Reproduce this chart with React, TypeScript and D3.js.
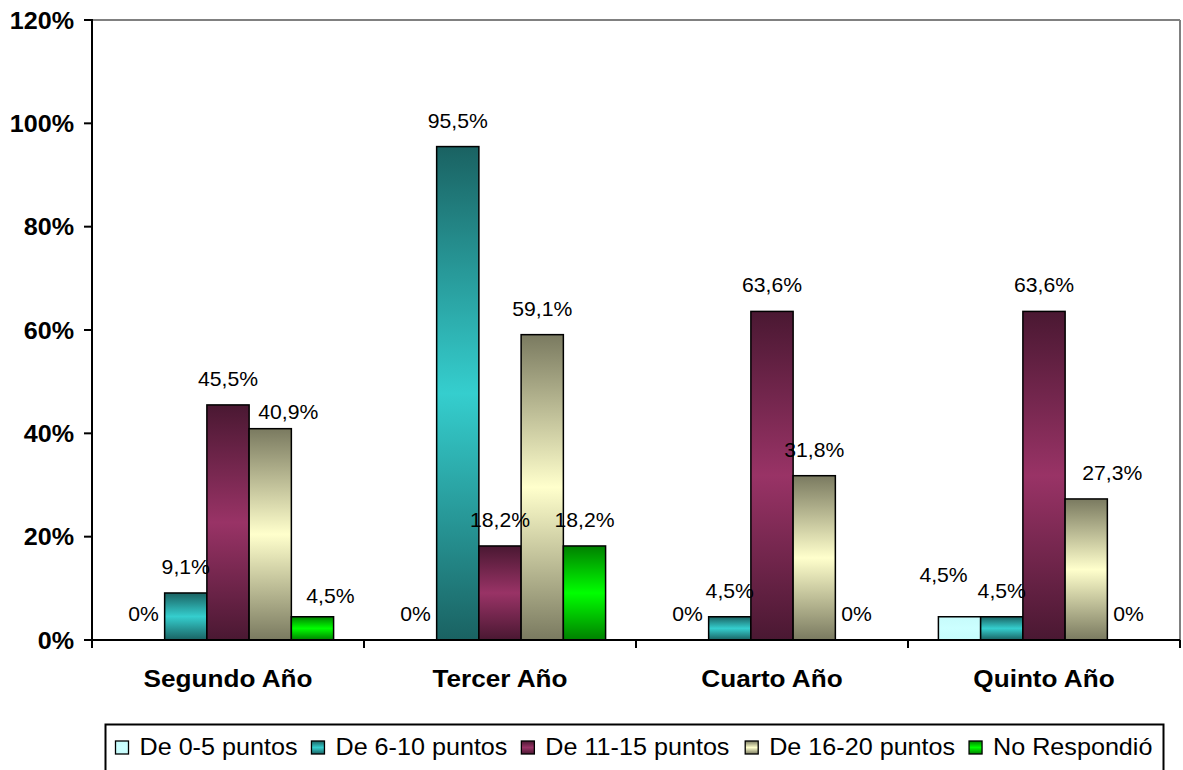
import React from "react";
import * as d3 from "d3";

const categories = ["Segundo Año", "Tercer Año", "Cuarto Año", "Quinto Año"];
const seriesNames = ["De 0-5 puntos", "De 6-10 puntos", "De 11-15 puntos", "De 16-20 puntos", "No Respondió"];
const serie0a5 = [0, 0, 0, 4.5];
const serie6a10 = [9.1, 95.5, 4.5, 4.5];
const serie11a15 = [45.5, 18.2, 63.6, 63.6];
const serie16a20 = [40.9, 59.1, 31.8, 27.3];
const serieNoResp = [4.5, 18.2, 0, 0];
const yTicks = [0, 20, 40, 60, 80, 100, 120];

const seriesValues = [serie0a5, serie6a10, serie11a15, serie16a20, serieNoResp];

// gradient colours: [edge, centre]
const palette: [string, string][] = [
  ["#c6fbfb", "#ccffff"],
  ["#1a6262", "#35cece"],
  ["#4a1832", "#993366"],
  ["#7a7a60", "#ffffcc"],
  ["#008000", "#00ff00"],
];

// manual label nudges (category index, series index) -> [dx, dy]
const labelNudge: Record<string, [number, number]> = {
  "0-3": [18, 9],
  "0-4": [18, 5],
  "3-0": [-16, -16],
  "3-3": [26, 0],
};

const FONT = "'Liberation Sans', Arial, Helvetica, sans-serif";

export default function App() {
  const W = 1183;
  const H = 770;
  const left = 92;
  const right = 1180;
  const top = 20;
  const bottom = 640;

  const y = d3.scaleLinear().domain([0, 120]).range([bottom, top]);
  const x0 = d3.scaleBand<string>().domain(categories).range([left, right]).padding(0);
  const x1 = d3
    .scaleBand<string>()
    .domain(seriesNames)
    .range([0, x0.bandwidth()])
    .paddingInner(0)
    .paddingOuter(0.72);

  const fmt = (v: number) => (v === 0 ? "0%" : v.toFixed(1).replace(".", ",") + "%");

  // legend layout
  const legendEm = 23 * 1.09;
  const arialW: Record<string, number> = {
    D: 0.722, e: 0.556, " ": 0.278, "0": 0.556, "1": 0.556, "2": 0.556, "5": 0.556, "6": 0.556,
    "-": 0.333, p: 0.556, u: 0.556, n: 0.556, t: 0.278, o: 0.556, s: 0.5, N: 0.722, R: 0.722,
    d: 0.556, i: 0.222, "ó": 0.556,
  };
  const textW = (s: string) => s.split("").reduce((a, c) => a + (arialW[c] ?? 0.556), 0) * legendEm;
  const legendItems: { name: string; sx: number; tx: number; i: number }[] = [];
  let cx = 115.5;
  seriesNames.forEach((name, i) => {
    legendItems.push({ name, sx: cx, tx: cx + 24, i });
    cx = cx + 24 + textW(name) + 14.5;
  });

  return (
    <svg
      width={W}
      height={H}
      style={{ position: "absolute", left: 0, top: 0, background: "#fff" }}
      fontFamily={FONT}
    >
      <defs>
        {palette.map(([edge, mid], i) => (
          <linearGradient key={i} id={`g${i}`} x1="0" y1="0" x2="0" y2="1">
            <stop offset="0%" stopColor={edge} />
            <stop offset="50%" stopColor={mid} />
            <stop offset="100%" stopColor={edge} />
          </linearGradient>
        ))}
      </defs>
      <rect x={0} y={0} width={W} height={H} fill="#fff" />

      {/* plot frame */}
      <line x1={left} x2={right} y1={top} y2={top} stroke="#808080" strokeWidth={2} />
      <line x1={right} x2={right} y1={top} y2={bottom} stroke="#808080" strokeWidth={2} />

      {/* bars */}
      {categories.map((cat, ci) =>
        seriesNames.map((sn, si) => {
          const v = seriesValues[si][ci];
          if (v === 0) return null;
          const bx = (x0(cat) ?? 0) + (x1(sn) ?? 0);
          return (
            <rect
              key={`${ci}-${si}`}
              x={bx}
              y={y(v)}
              width={x1.bandwidth()}
              height={bottom - y(v)}
              fill={`url(#g${si})`}
              stroke="#000"
              strokeWidth={1.5}
            />
          );
        })
      )}

      {/* axes */}
      <line x1={left} x2={left} y1={top - 1} y2={bottom + 1} stroke="#000" strokeWidth={2} />
      <line x1={left - 1} x2={right} y1={bottom} y2={bottom} stroke="#000" strokeWidth={2} />
      {yTicks.map((t) => (
        <g key={t}>
          <line x1={left - 8} x2={left} y1={y(t)} y2={y(t)} stroke="#000" strokeWidth={2} />
          <text
            transform={`translate(74,${y(t) + 8.5}) scale(1.07,1)`}
            textAnchor="end"
            fontWeight="bold"
            fontSize={23.5}
            fill="#000"
          >
            {t}%
          </text>
        </g>
      ))}
      {[...categories.map((c) => x0(c) ?? 0), right].map((tx, i) => (
        <line key={i} x1={tx} x2={tx} y1={bottom} y2={bottom + 8} stroke="#000" strokeWidth={2} />
      ))}
      {categories.map((c) => (
        <text
          key={c}
          transform={`translate(${(x0(c) ?? 0) + x0.bandwidth() / 2},687) scale(1.09,1)`}
          textAnchor="middle"
          fontWeight="bold"
          fontSize={24}
          fill="#000"
        >
          {c}
        </text>
      ))}

      {/* data labels */}
      {categories.map((cat, ci) =>
        seriesNames.map((sn, si) => {
          const v = seriesValues[si][ci];
          const nudge = labelNudge[`${ci}-${si}`] ?? [0, 0];
          const lx = (x0(cat) ?? 0) + (x1(sn) ?? 0) + x1.bandwidth() / 2 + nudge[0];
          const ly = y(v) - 19 + nudge[1];
          return (
            <text
              key={`l${ci}-${si}`}
              transform={`translate(${lx},${ly}) scale(1.06,1)`}
              textAnchor="middle"
              fontSize={20}
              fill="#000"
            >
              {fmt(v)}
            </text>
          );
        })
      )}

      {/* legend */}
      <rect x={105.5} y={724.5} width={1058} height={60} fill="#fff" stroke="#000" strokeWidth={2} />
      {legendItems.map((it) => (
        <g key={it.name}>
          <rect x={it.sx} y={741} width={13} height={13} fill={`url(#g${it.i})`} stroke="#000" strokeWidth={1.3} />
          <text
            transform={`translate(${it.tx},755) scale(1.08,1)`}
            fontSize={23.3}
            fill="#000"
          >
            {it.name}
          </text>
        </g>
      ))}
    </svg>
  );
}
